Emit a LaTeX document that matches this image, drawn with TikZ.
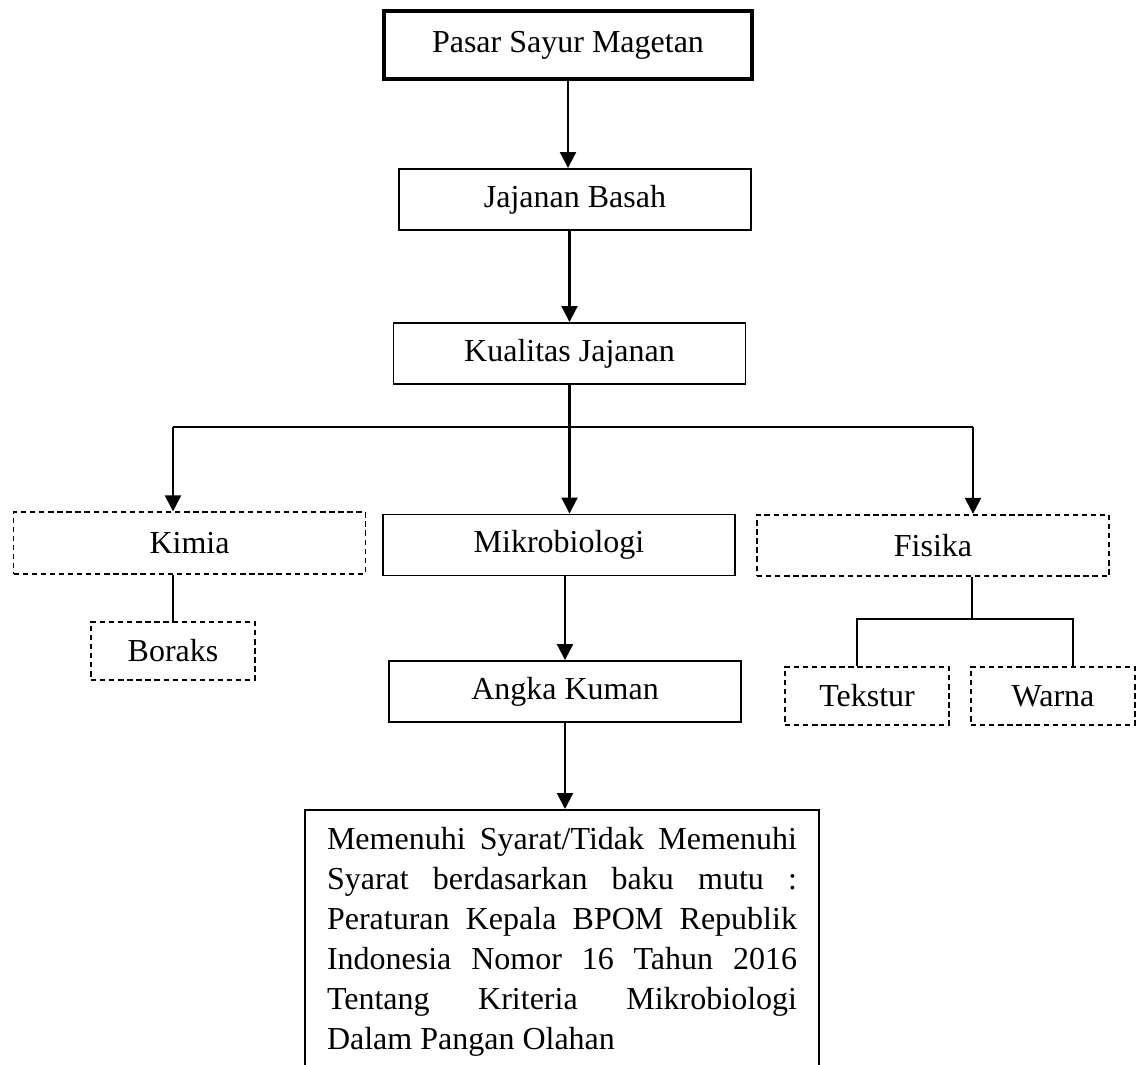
\documentclass[tikz,border=0pt]{standalone}
\usepackage{fontspec}
\setmainfont{Liberation Serif}
\usetikzlibrary{arrows.meta}

\begin{document}
\begin{tikzpicture}
  [x=0.375pt,y=-0.375pt,font=\fontsize{12}{15}\selectfont,
   box/.style={draw,line width=0.6pt,minimum width=132pt,minimum height=23pt,inner sep=0pt},
   dbox/.style={box,line width=0.7pt,dash pattern=on 2pt off 1.4pt},
   sbox/.style={dbox,minimum width=61.5pt,minimum height=21.75pt},
   arr/.style={-{Triangle[length=6pt,width=6pt]},line width=0.8pt}]

  \useasboundingbox (0,0) rectangle (1137,1064);

  \node[box,line width=1.2pt,minimum width=138pt,minimum height=25.5pt] (pasar) at (568,45) {Pasar Sayur Magetan};
  \node[box] (jajanan) at (575,199.5) {Jajanan Basah};
  \node[box] (kualitas) at (569.5,353.5) {Kualitas Jajanan};
  \node[dbox] (kimia) at (189.5,543) {Kimia};
  \node[box] (mikro) at (559,545) {Mikrobiologi};
  \node[dbox] (fisika) at (933,545.5) {Fisika};
  \node[sbox] (boraks) at (173,651) {Boraks};
  \node[box] (angka) at (565,691.5) {Angka Kuman};
  \node[sbox] (tekstur) at (867,696) {Tekstur};
  \node[sbox] (warna) at (1053,696) {Warna};
  \node[draw,line width=0.6pt,anchor=north,text width=176.25pt,align=justify,
        inner xsep=8.25pt,inner ysep=6.4pt] (syarat) at (562,809)
    {\hyphenpenalty=10000 Memenuhi Syarat/Tidak Memenuhi\linebreak
     Syarat berdasarkan baku mutu :\linebreak
     Peraturan Kepala BPOM Republik\linebreak
     Indonesia Nomor 16 Tahun 2016\linebreak
     Tentang Kriteria Mikrobiologi\linebreak
     Dalam Pangan Olahan};

  % branching points
  \coordinate (bl) at (173,427);
  \coordinate (br) at (973,427);
  \coordinate (tj) at (857,619);
  \coordinate (wj) at (1073,619);
  \coordinate (fj) at (972,619);

  \draw[arr] (pasar.south) -- (pasar.south |- jajanan.north);
  \draw[arr] (kualitas.north |- jajanan.south) -- (kualitas.north);
  \draw[arr] (kualitas.south) -- (kualitas.south |- mikro.north);
  \draw[line width=0.6pt] (bl) -- (br);
  \draw[arr] (bl) -- (bl |- kimia.north);
  \draw[arr] (br) -- (br |- fisika.north);
  \draw[line width=0.6pt] (boraks.north |- kimia.south) -- (boraks.north);
  \draw[arr] (angka.north |- mikro.south) -- (angka.north);
  \draw[arr] (angka.south) -- (angka.south |- syarat.north);
  \draw[line width=0.6pt] (fj |- fisika.south) -- (fj);
  \draw[line width=0.6pt] (tj |- tekstur.north) -- (tj) -- (wj) -- (wj |- warna.north);
\end{tikzpicture}
\end{document}
